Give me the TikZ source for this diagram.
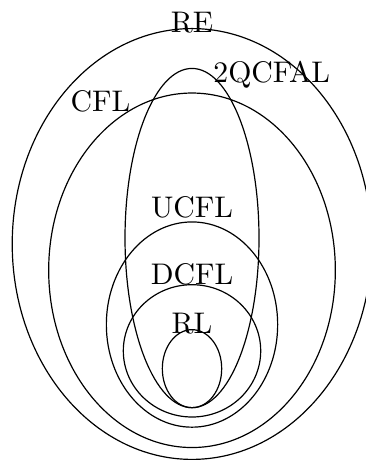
\documentclass[tikz,border=0pt]{standalone}
\usetikzlibrary{calc}
\tikzset{
    class/.style={black},
    classname/.style={anchor=base,inner sep=0pt}
}
\begin{document}
\begin{tikzpicture}
\useasboundingbox (-2.264,-2.547) rectangle (2.04,2.877); % frame of the picture
\coordinate (RE) at (0,0); % centre of recursively enumerable
\coordinate (CFL) at (0,-0.31); % centre of context-free
\coordinate (QC) at (0,0.07); % centre of 2QCFA languages
\coordinate (UCFL) at (0,-0.95); % centre of unambiguous context-free
\coordinate (DCFL) at (0,-1.26); % centre of deterministic context-free
\coordinate (RL) at (0,-1.47); % centre of regular
\draw[class] (RE) ellipse [x radius=2.12, y radius=2.54]; % RE
\draw[class] (CFL) ellipse [x radius=1.69, y radius=2.09]; % CFL
\draw[class] (QC) ellipse [x radius=0.79, y radius=2.0]; % 2QCFAL
\draw[class] (UCFL) ellipse [x radius=1.01, y radius=1.21]; % UCFL
\draw[class] (DCFL) ellipse [x radius=0.81, y radius=0.78]; % DCFL
\draw[class] (RL) ellipse [x radius=0.35, y radius=0.46]; % RL
\node[classname] (reName) at (0,2.49) {RE}; % label on top of RE
\node[classname] (qcName) at (0.94,1.90) {2QCFAL}; % label of 2QCFAL
\node[classname] (cflName) at (-1.08,1.56) {CFL}; % label of CFL
\node[classname] (ucflName) at (0,0.31) {UCFL}; % label of UCFL
\node[classname] (dcflName) at (0,-0.48) {DCFL}; % label of DCFL
\node[classname] (rlName) at (0,-1.05) {RL}; % label of RL
\end{tikzpicture}
\end{document}
